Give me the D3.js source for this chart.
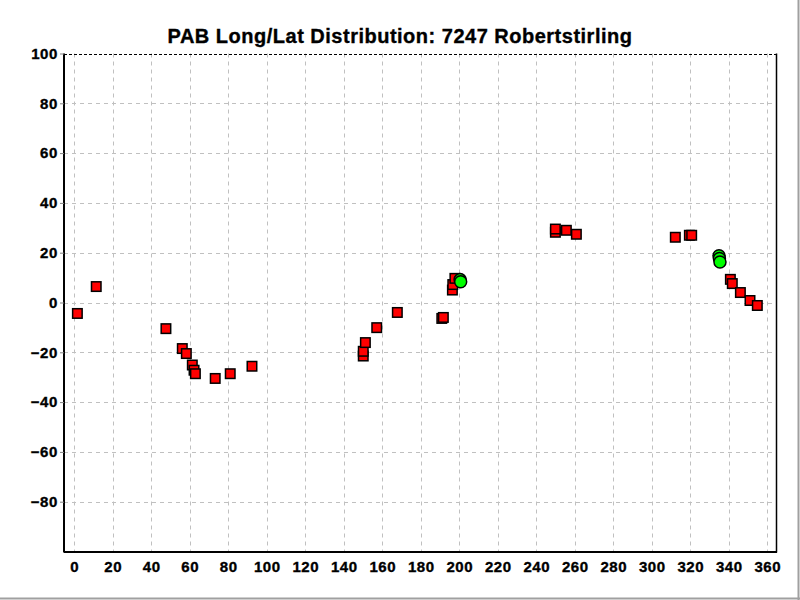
<!DOCTYPE html>
<html>
<head>
<meta charset="utf-8">
<script src="https://cdn.jsdelivr.net/npm/d3@7/dist/d3.min.js"></script>
<style>
  html, body { margin: 0; padding: 0; background: #fff; }
  svg { display: block; }
  text { font-family: "Liberation Sans", Arial, sans-serif; font-weight: bold; }
</style>
</head>
<body>
<svg id="chart" width="800" height="600"></svg>
<script>
const titleText = "PAB Long/Lat Distribution: 7247 Robertstirling";
const xTicks = [0,20,40,60,80,100,120,140,160,180,200,220,240,260,280,300,320,340,360];
const yTicks = [-80,-60,-40,-20,0,20,40,60,80,100];

// red squares: longitude, latitude
const redLong = [1.6, 11.4, 47.6, 56.1, 58.2, 61.3, 62.2, 62.9, 73.2, 81.0, 92.3,
                 150.1, 150.1, 151.2, 157.1, 167.8, 190.9, 191.7,
                 196.4, 196.6, 197.7,
                 249.9, 249.9, 255.6, 260.8,
                 312.2, 319.5, 320.7,
                 340.8, 341.8, 346.0, 351.0, 354.8];
const redLat  = [-4.4, 6.4, -10.5, -18.5, -20.5, -25.1, -27.2, -28.6, -30.5, -28.6, -25.6,
                 -21.5, -19.6, -16.1, -10.1, -4.0, -6.4, -6.0,
                 5.0, 7.2, 9.7,
                 28.2, 29.5, 29.0, 27.4,
                 26.2, 27.0, 27.0,
                 9.3, 7.6, 4.0, 0.8, -1.2];
// green circles
const greenLong = [200.4, 200.7, 334.9, 335.1, 335.4];
const greenLat  = [9.2, 8.3, 18.8, 17.7, 16.3];

const svg = d3.select("#chart");
const L = 64, R = 776, T = 53.5, B = 551.5;
const x = d3.scaleLinear().domain([-5.35, 364.5]).range([L, R]);
const y = d3.scaleLinear().domain([-100, 100]).range([B, T]);

// outer frame shadow
svg.append("line").attr("x1", 798.5).attr("x2", 798.5).attr("y1", 0).attr("y2", 600)
  .attr("stroke", "#a0a0a0").attr("stroke-width", 2);
svg.append("line").attr("x1", 0).attr("x2", 800).attr("y1", 598.5).attr("y2", 598.5)
  .attr("stroke", "#a0a0a0").attr("stroke-width", 2);

// gridlines
const grid = svg.append("g");
grid.selectAll("line.vx").data(xTicks).join("line")
  .attr("x1", d => Math.round(x(d)) + 0.5).attr("x2", d => Math.round(x(d)) + 0.5)
  .attr("y1", T).attr("y2", B)
  .attr("stroke", "#c0c0c0").attr("stroke-dasharray", "4,4");
grid.selectAll("line.hy").data(yTicks.filter(d => d < 100)).join("line")
  .attr("x1", L).attr("x2", R)
  .attr("y1", d => Math.round(y(d)) + 0.5).attr("y2", d => Math.round(y(d)) + 0.5)
  .attr("stroke", "#c0c0c0").attr("stroke-dasharray", "4,4");

// frame: top dashed, others solid
svg.append("line").attr("x1", L).attr("x2", R).attr("y1", Math.round(T) + 0.5).attr("y2", Math.round(T) + 0.5)
  .attr("stroke", "#000").attr("stroke-dasharray", "3,2");
svg.append("line").attr("x1", R + 0.5).attr("x2", R + 0.5).attr("y1", T).attr("y2", B + 1)
  .attr("stroke", "#000").attr("stroke-width", 1.5);

function styleText(sel, size, ls) {
  sel.attr("font-size", size).attr("font-family", "Liberation Sans, Arial").attr("font-weight", "bold")
    .attr("fill", "#000").attr("stroke", "#000").attr("stroke-width", 0.35)
    .attr("letter-spacing", ls);
}

// axes
const xAxis = d3.axisBottom(x).tickValues(xTicks).tickSize(0).tickPadding(9);
const yAxis = d3.axisLeft(y).tickValues(yTicks).tickSize(4).tickPadding(2);

const gx = svg.append("g").attr("transform", `translate(0,${B + 0.5})`).call(xAxis);
gx.select(".domain").attr("stroke", "#000").attr("stroke-width", 2).attr("d", `M${L},0H${R + 1}`);
styleText(gx.selectAll("text"), 15, 0.6);

const gy = svg.append("g").attr("transform", `translate(${L},0)`).call(yAxis);
gy.select(".domain").attr("stroke", "#000").attr("stroke-width", 2).attr("d", `M0,${T}V${B + 1}`);
gy.selectAll(".tick line").attr("stroke", "#808080");
styleText(gy.selectAll("text"), 15, 0.6);

// title
const title = svg.append("text").attr("x", 400).attr("y", 43).attr("text-anchor", "middle").text(titleText);
styleText(title, 20, 0.5);

// red squares
const sq = 9.5;
svg.append("g").selectAll("rect").data(redLong.map((d, i) => [d, redLat[i]])).join("rect")
  .attr("x", d => x(d[0]) - sq / 2).attr("y", d => y(d[1]) - sq / 2)
  .attr("width", sq).attr("height", sq)
  .attr("fill", "#ff0000").attr("stroke", "#000").attr("stroke-width", 1.5);

// green circles
svg.append("g").selectAll("circle").data(greenLong.map((d, i) => [d, greenLat[i]])).join("circle")
  .attr("cx", d => x(d[0])).attr("cy", d => y(d[1])).attr("r", 6)
  .attr("fill", "#00ff00").attr("stroke", "#000").attr("stroke-width", 1.5);
</script>
</body>
</html>
